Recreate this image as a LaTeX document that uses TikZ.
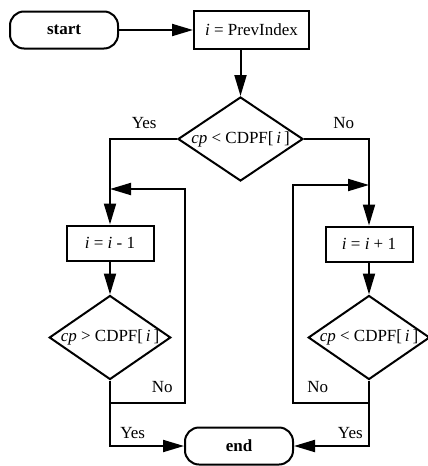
\documentclass[tikz,border=0pt]{standalone}
\usepackage{fontspec}
\setmainfont{Liberation Serif}
\usetikzlibrary{shapes.geometric,arrows.meta,positioning}
\begin{document}
\begin{tikzpicture}[x=1pt, y=1pt, line width=2pt, font=\fontsize{17}{19}\selectfont,
                    terminal/.style={rectangle, rounded corners=14pt, draw, minimum width=108pt,
                                     minimum height=37pt, inner sep=0pt, font=\fontsize{17}{19}\selectfont\bfseries},
                    process/.style={rectangle, draw, minimum width=87pt, minimum height=35pt, inner sep=0pt},
                    decision/.style={diamond, draw, aspect=1.5, minimum width=120pt, minimum height=84pt, inner sep=0pt},
                    arrow/.style={-{Triangle[length=21pt,width=12pt]}}]

  \useasboundingbox (0,0) rectangle (428,-466);

  \node[terminal] (start) at (64,-30) {start};
  \node[process, minimum width=115pt, minimum height=38pt] (prev) [right=74pt of start] {\textit{i} = PrevIndex};
  \node[decision, minimum width=125pt] (d1) [below=46pt of prev, xshift=-11pt] {\textit{cp} < CDPF[\,\textit{i}\,]};

  \node[process] (dec) at (110,-243) {\textit{i} = \textit{i} - 1};
  \node[decision] (d2) [below=33pt of dec] {\textit{cp} > CDPF[\,\textit{i}\,]};

  \node[process] (inc) at (369,-244) {\textit{i} = \textit{i} + 1};
  \node[decision, minimum width=118pt] (d3) [below=32pt of inc] {\textit{cp} < CDPF[\,\textit{i}\,]};

  \node[terminal] (end) at (239,-446) {end};

  \coordinate (lbend) at (185,-189);
  \coordinate (ljoin) at (110,-403);
  \coordinate (rbend) at (293,-185);
  \coordinate (rjoin) at (369,-403);

  \draw[arrow] (start) -- (prev);
  \draw[arrow] (prev.south -| d1.north) -- (d1.north);

  \draw[arrow] (d1.west) -| node[pos=0.245, above=6pt] {Yes} (dec.north);
  \draw[arrow] (d1.east) -| node[pos=0.305, above=6pt] {No} (inc.north);

  \draw[arrow] (dec) -- (d2);
  \draw[arrow] (inc) -- (d3);

  \draw[arrow] (d2.south) |- node[pos=0.5, above right=3.5pt and 6pt] {Yes} (end.west);
  \draw[arrow] (d3.south) |- node[pos=0.5, above left=3.5pt and 2pt] {Yes} (end.east);

  \draw[arrow] (ljoin) -| node[pos=0.5, above left=6pt and 8pt] {No} (lbend) -- (lbend -| dec.north);
  \draw[arrow] (rjoin) -| node[pos=0.5, above right=6pt and 10pt] {No} (rbend) -- (rbend -| inc.north);

\end{tikzpicture}
\end{document}
